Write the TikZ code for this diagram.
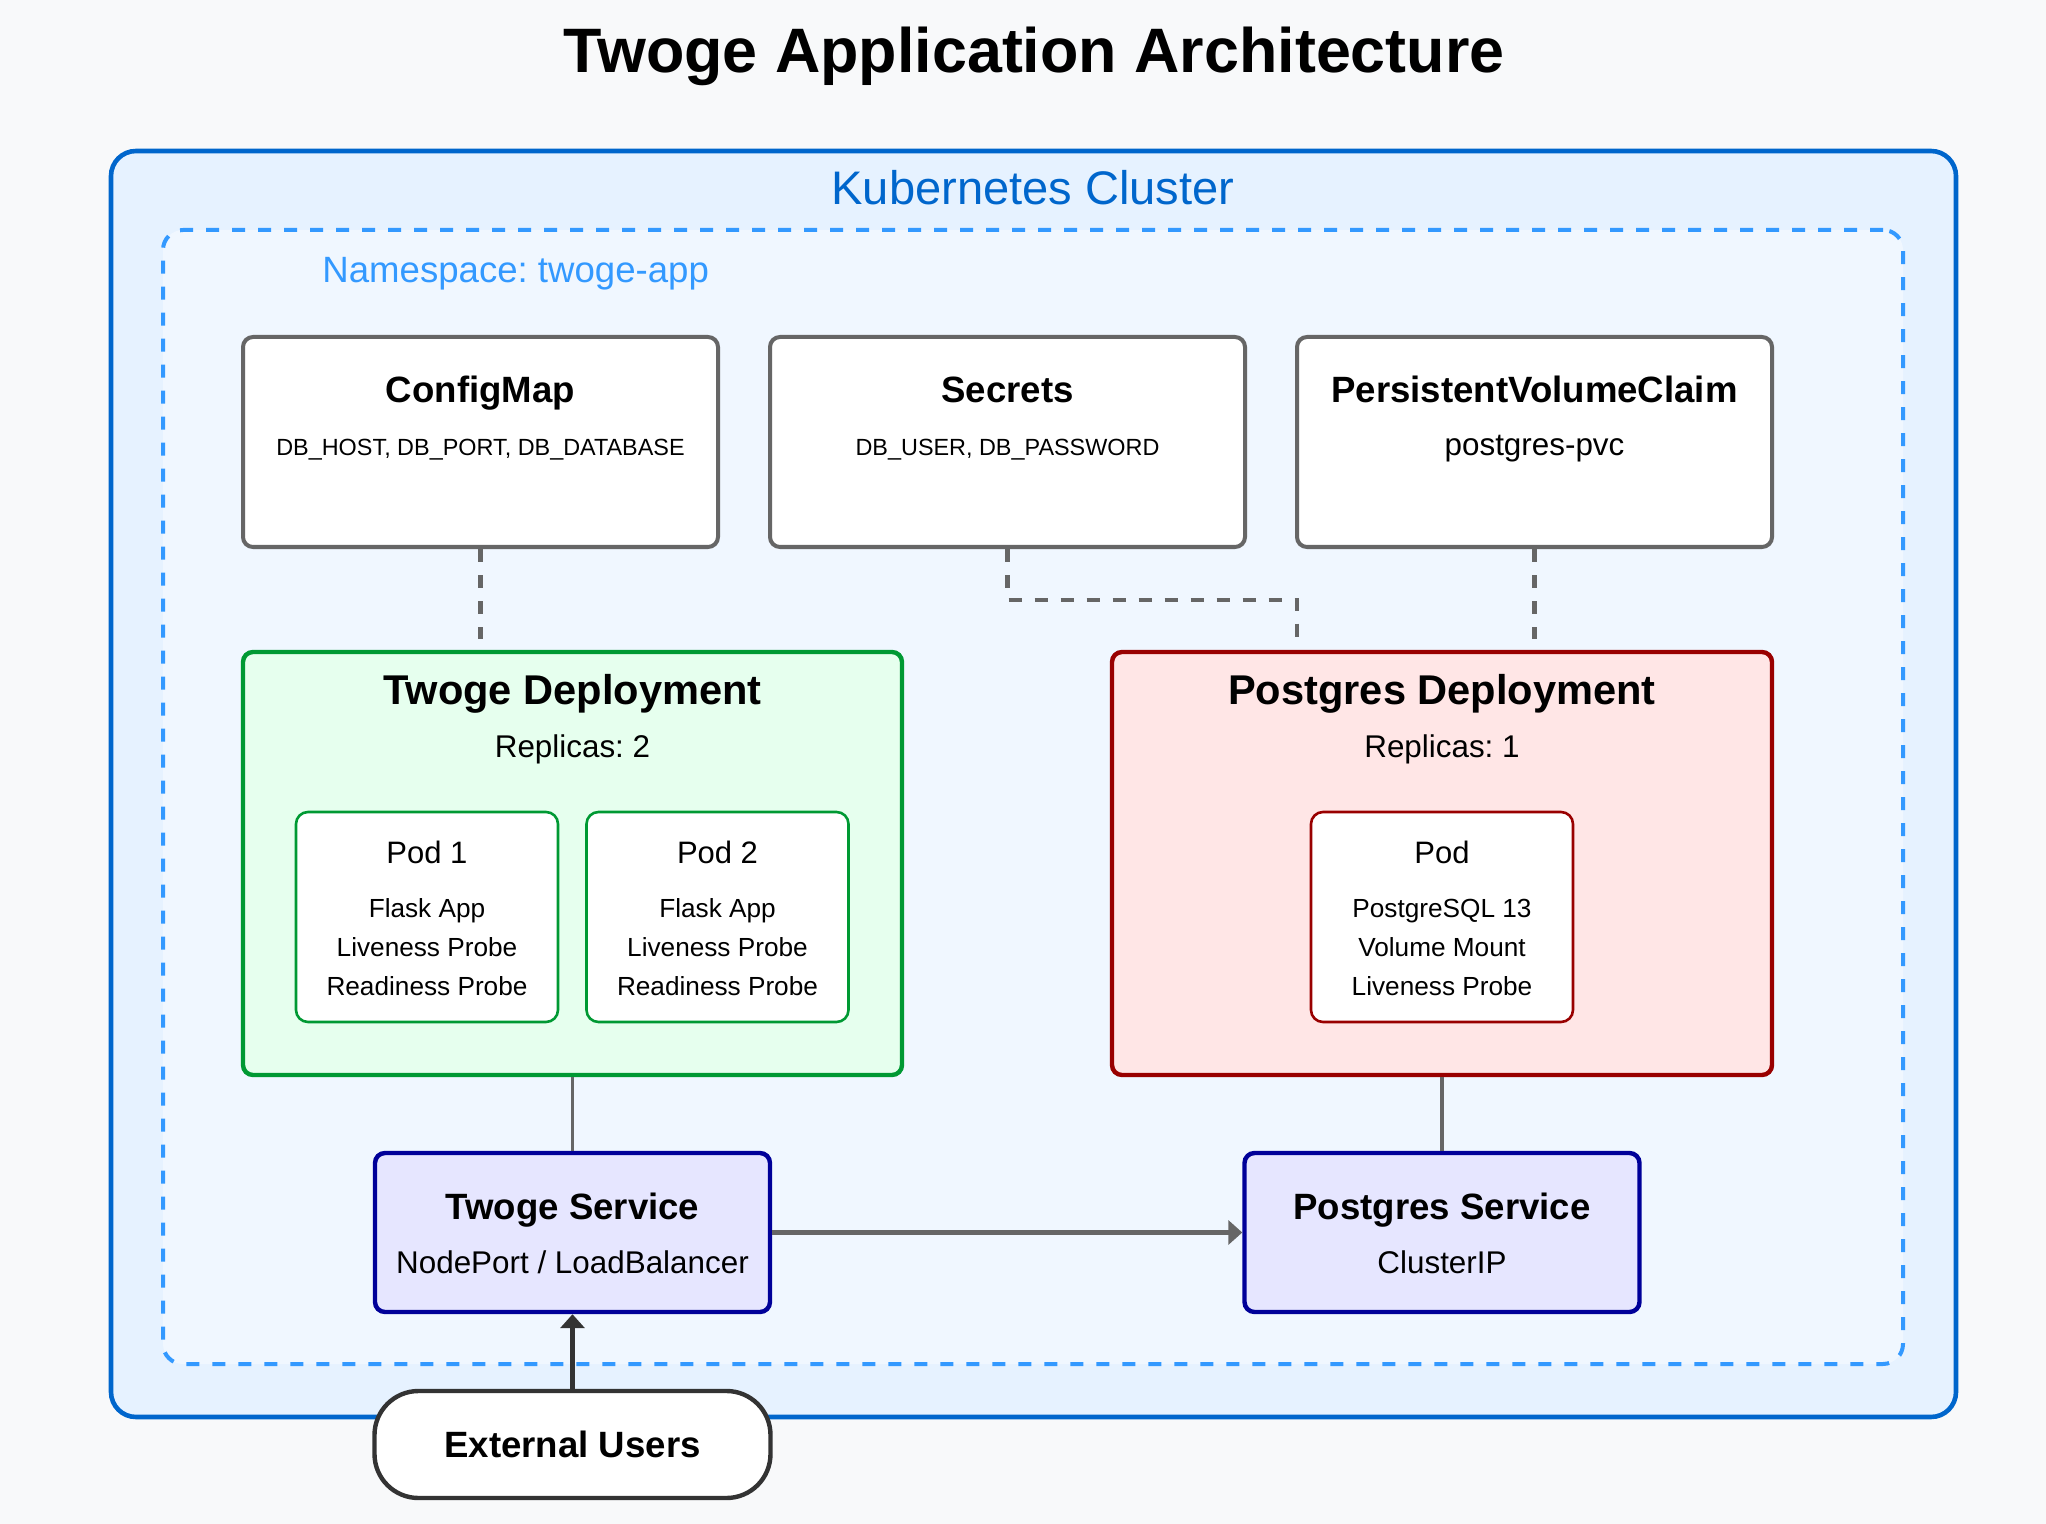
\documentclass[tikz,border=0pt]{standalone}
\usepackage{fontspec}
\setmainfont{Liberation Sans}
\usepackage{xcolor}
\usepackage{tikz}
\usetikzlibrary{arrows.meta}
\frenchspacing

\definecolor{hintergrund}{HTML}{F8F9FA}
\definecolor{k8sblau}{HTML}{0066CC}
\definecolor{k8sfill}{HTML}{E6F2FF}
\definecolor{nsblau}{HTML}{3399FF}
\definecolor{nsfill}{HTML}{F0F7FF}
\definecolor{grau}{HTML}{666666}
\definecolor{dunkelgrau}{HTML}{333333}
\definecolor{gruen}{HTML}{009933}
\definecolor{gruenfill}{HTML}{E6FFEE}
\definecolor{rot}{HTML}{990000}
\definecolor{rotfill}{HTML}{FFE6E6}
\definecolor{navy}{HTML}{000099}
\definecolor{navyfill}{HTML}{E6E6FF}

\newcommand{\schrift}[1]{\fontsize{#1}{#1}\selectfont}

\tikzstyle{txt} = [anchor=base, inner sep=0]
\tikzstyle{clusterbox} = [rectangle, draw=k8sblau, fill=k8sfill, line width=2.3pt, rounded corners=12.5pt, inner sep=0]
\tikzstyle{nsbox} = [rectangle, draw=nsblau, fill=nsfill, line width=2pt, dash pattern=on 6.5pt off 6.5pt, rounded corners=10pt, inner sep=0]
\tikzstyle{resource} = [rectangle, draw=grau, fill=white, line width=2pt, rounded corners=5pt, minimum width=237.5pt, minimum height=105pt, inner sep=0]
\tikzstyle{twogedep} = [rectangle, draw=gruen, fill=gruenfill, line width=2.2pt, rounded corners=5pt, minimum width=329.5pt, minimum height=211.5pt, inner sep=0]
\tikzstyle{pgdep} = [rectangle, draw=rot, fill=rotfill, line width=2.2pt, rounded corners=5pt, minimum width=330pt, minimum height=211.5pt, inner sep=0]
\tikzstyle{pod} = [rectangle, fill=white, line width=1.3pt, rounded corners=6pt, minimum width=131pt, minimum height=105pt, inner sep=0]
\tikzstyle{service} = [rectangle, draw=navy, fill=navyfill, line width=2.2pt, rounded corners=5pt, minimum width=197.5pt, minimum height=79.5pt, inner sep=0]
\tikzstyle{users} = [rectangle, draw=dunkelgrau, fill=white, line width=2.2pt, rounded corners=22pt, minimum width=198pt, minimum height=53.5pt, inner sep=0]
\tikzstyle{verbindung} = [draw=grau, line width=2.3pt, dash pattern=on 6.5pt off 6.5pt]
\tikzstyle{linie} = [draw=grau, line width=1.8pt]
\tikzstyle{pfeil} = [line width=2.2pt, -{Triangle[length=7pt,width=12pt]}]

\begin{document}
\begin{tikzpicture}[x=0.5pt, y=-0.5pt]
		\useasboundingbox (0,0) rectangle (2046,1524);
		\fill[hintergrund] (0,0) rectangle (2046,1524);
		\node[txt, font=\schrift{31.4}\bfseries] (titel) at (1034,73) {Twoge Application Architecture};
		
		% Cluster und Namespace
		\node[clusterbox, minimum width=922.5pt, minimum height=633pt] (cluster) at (1033.5,784) {};
		\node[txt, text=k8sblau, font=\schrift{23.55}] (cluster-label) at (1033,205) {Kubernetes Cluster};
		\node[nsbox, minimum width=870pt, minimum height=567pt] (ns) at (1033,797) {};
		\node[txt, anchor=base west, text=nsblau, font=\schrift{18.3}] (ns-label) at (322,283) {Namespace: twoge-app};
		
		% ConfigMap, Secrets, PVC
		\node[resource] (configmap) at (480.5,442) {};
		\node[txt, font=\schrift{18.3}\bfseries] (configmap-titel) at (480.5,403) {ConfigMap};
		\node[txt, font=\schrift{11.7}] (configmap-text) at (480.5,456) {DB\_HOST, DB\_PORT, DB\_DATABASE};
		\node[resource] (secrets) at (1007.5,442) {};
		\node[txt, font=\schrift{18.3}\bfseries] (secrets-titel) at (1007.5,403) {Secrets};
		\node[txt, font=\schrift{11.7}] (secrets-text) at (1007.5,456) {DB\_USER, DB\_PASSWORD};
		\node[resource] (pvc) at (1534.5,442) {};
		\node[txt, font=\schrift{18.3}\bfseries] (pvc-titel) at (1534.5,403) {PersistentVolumeClaim};
		\node[txt, font=\schrift{15.7}] (pvc-text) at (1534.5,456) {postgres-pvc};
		
		% Twoge Deployment
		\node[twogedep] (twoge-dep) at (572.5,863.5) {};
		\node[txt, font=\schrift{20.8}\bfseries] (twoge-dep-titel) at (572.5,704) {Twoge Deployment};
		\node[txt, font=\schrift{15.7}] (twoge-dep-text) at (572.5,757) {Replicas: 2};
		\node[pod, draw=gruen] (pod1) at (427,917) {};
		\node[txt, font=\schrift{15.5}] (pod1-titel) at (427,863) {Pod 1};
		\node[txt, font=\schrift{13.1}] (pod1-z1) at (427,917) {Flask App};
		\node[txt, font=\schrift{13.1}] (pod1-z2) at (427,956) {Liveness Probe};
		\node[txt, font=\schrift{13.1}] (pod1-z3) at (427,995) {Readiness Probe};
		\node[pod, draw=gruen] (pod2) at (717.5,917) {};
		\node[txt, font=\schrift{15.5}] (pod2-titel) at (717.5,863) {Pod 2};
		\node[txt, font=\schrift{13.1}] (pod2-z1) at (717.5,917) {Flask App};
		\node[txt, font=\schrift{13.1}] (pod2-z2) at (717.5,956) {Liveness Probe};
		\node[txt, font=\schrift{13.1}] (pod2-z3) at (717.5,995) {Readiness Probe};
		
		% Postgres Deployment
		\node[pgdep] (pg-dep) at (1442,863.5) {};
		\node[txt, font=\schrift{20.8}\bfseries] (pg-dep-titel) at (1442,704) {Postgres Deployment};
		\node[txt, font=\schrift{15.7}] (pg-dep-text) at (1442,757) {Replicas: 1};
		\node[pod, draw=rot] (pg-pod) at (1442,917) {};
		\node[txt, font=\schrift{15.5}] (pg-pod-titel) at (1442,863) {Pod};
		\node[txt, font=\schrift{13.1}] (pg-pod-z1) at (1442,917) {PostgreSQL 13};
		\node[txt, font=\schrift{13.1}] (pg-pod-z2) at (1442,956) {Volume Mount};
		\node[txt, font=\schrift{13.1}] (pg-pod-z3) at (1442,995) {Liveness Probe};
		
		% Services
		\node[service] (twoge-svc) at (572.5,1232.5) {};
		\node[txt, font=\schrift{18.3}\bfseries] (twoge-svc-titel) at (572.5,1219) {Twoge Service};
		\node[txt, font=\schrift{15.7}] (twoge-svc-text) at (572.5,1273) {NodePort / LoadBalancer};
		\node[service] (pg-svc) at (1442,1232.5) {};
		\node[txt, font=\schrift{18.3}\bfseries] (pg-svc-titel) at (1442,1219) {Postgres Service};
		\node[txt, font=\schrift{15.7}] (pg-svc-text) at (1442,1273) {ClusterIP};
		
		% Externe Nutzer
		\node[users] (users) at (572.5,1444.5) {};
		\node[txt, font=\schrift{18.3}\bfseries] (users-titel) at (572.5,1457) {External Users};
		
		% Verbindungen (gestrichelt)
		\coordinate (cm-ende) at (480.5,639);
		\coordinate (sec-knick) at (1297,600);
		\coordinate (sec-ende) at (1297,639);
		\coordinate (pvc-ende) at (1534.5,639);
		\draw[verbindung] (configmap.south) -- (cm-ende);
		\draw[verbindung] (secrets.south) |- (sec-knick) -- (sec-ende);
		\draw[verbindung] (pvc.south) -- (pvc-ende);
		
		% Deployments -> Services
		\draw[linie] (twoge-dep.south) -- (twoge-svc.north);
		\draw[linie] (pg-dep.south) -- (pg-svc.north);
		\draw[pfeil, grau] (twoge-svc.east) -- (pg-svc.west);
		\draw[pfeil, dunkelgrau] (users.north) -- (twoge-svc.south);
\end{tikzpicture}
\end{document}
